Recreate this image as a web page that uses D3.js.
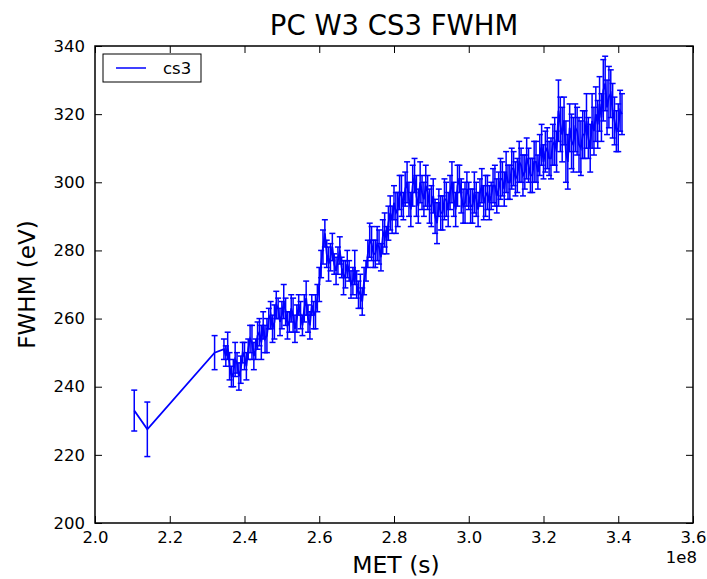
<!DOCTYPE html>
<html><head><meta charset="utf-8">
<script src="https://cdn.jsdelivr.net/npm/d3@7"></script>
<style>body{margin:0;background:#fff}svg{display:block}text{font-family:"DejaVu Sans",sans-serif}</style>
</head><body>
<script>
// MET in units of 1e6 s
const met = [210.5, 214, 232, 234.5,
 235,235.5,236,236.5,237,237.5,238,238.5,239,239.5,240,240.5,241,241.5,242,242.5,243,243.5,244,244.5,
 245,245.5,246,246.5,247,247.5,248,248.5,249,249.5,250,250.5,251,251.5,252,252.5,253,253.5,254,254.5,
 255,255.5,256,256.5,257,257.5,258,258.5,259,259.5,260,260.5,261,261.5,262,262.5,263,263.5,264,264.5,
 265,265.5,266,266.5,267,267.5,268,268.5,269,269.5,270,270.5,271,271.5,272,272.5,273,273.5,274,274.5,
 275,275.5,276,276.5,277,277.5,278,278.5,279,279.5,280,280.5,281,281.5,282,282.5,283,283.5,284,284.5,
 285,285.5,286,286.5,287,287.5,288,288.5,289,289.5,290,290.5,291,291.5,292,292.5,293,293.5,294,294.5,
 295,295.5,296,296.5,297,297.5,298,298.5,299,299.5,300,300.5,301,301.5,302,302.5,303,303.5,304,304.5,
 305,305.5,306,306.5,307,307.5,308,308.5,309,309.5,310,310.5,311,311.5,312,312.5,313,313.5,314,314.5,
 315,315.5,316,316.5,317,317.5,318,318.5,319,319.5,320,320.5,321,321.5,322,322.5,323,323.5,324,324.5,
 325,325.5,326,326.5,327,327.5,328,328.5,329,329.5,330,330.5,331,331.5,332,332.5,333,333.5,334,334.5,
 335,335.5,336,336.5,337,337.5,338,338.5,339,339.5,340,340.5,341];
const fwhm = [233, 227.5, 250, 251,
 249,252,246,243,244,248,247,243,245,250,249,246,251,254,253,249,251,255,256,253,
 258,254,255,260,261,257,259,264,263,259,261,265,262,258,259,263,261,257,260,264,
 261,258,263,266,260,258,264,261,262,266,270,276,281,285,279,276,278,281,276,274,
 277,280,275,272,273,276,274,270,271,275,270,267,268,265,271,274,279,283,282,279,
 279,282,281,278,284,286,283,288,291,289,294,291,292,297,296,293,298,300,295,292,
 299,302,296,293,300,297,295,299,297,293,293,296,290,288,294,291,291,295,295,292,
 297,300,295,292,299,301,296,293,294,298,296,293,293,297,295,292,297,299,294,296,
 297,294,296,299,299,296,298,301,301,298,303,300,300,304,304,301,302,306,305,302,
 303,307,305,302,302,306,306,303,308,311,306,309,310,307,307,311,312,309,321,317,
 314,318,309,306,316,312,311,316,315,311,310,314,314,318,313,310,318,315,320,317,
 323,319,327,329,322,325,326,321,318,315,316,321,320];
const err = [6, 8, 5, 3,
 3,4,4,3,4,5,3,4,4,3,4,4,3,4,5,4,3,4,4,5,
 4,4,5,3,4,4,5,4,3,4,4,5,4,4,3,4,5,4,4,3,
 4,3,4,5,4,4,3,4,5,4,5,4,5,4,4,5,4,4,3,4,
 4,4,3,5,4,4,3,4,4,5,4,4,5,4,4,3,4,5,5,4,
 4,5,5,4,5,5,4,5,5,4,5,6,5,5,6,4,5,6,5,5,
 6,5,6,5,6,5,5,6,5,5,6,5,5,6,4,5,5,6,5,5,
 5,6,5,5,6,4,5,5,6,5,4,5,5,6,5,5,4,5,5,6,
 5,5,4,5,6,5,5,6,5,5,6,5,5,6,5,5,5,6,5,6,
 5,6,5,5,5,6,6,5,6,6,5,6,6,5,6,6,7,6,9,8,
 8,7,9,8,7,8,8,7,7,8,8,7,7,8,6,7,8,7,8,7,
 8,7,9,8,8,9,7,8,7,6,7,6,6];
const xTicks = [2.0,2.2,2.4,2.6,2.8,3.0,3.2,3.4,3.6];
const yTicks = [200,220,240,260,280,300,320,340];
const title = "PC W3 CS3 FWHM", xLabel = "MET (s)", yLabel = "FWHM (eV)", seriesName = "cs3";

const W = 707, H = 579, L = 95, R = 693, T = 46, B = 523;
const svg = d3.select("body").append("svg").attr("width", W).attr("height", H);
const x = d3.scaleLinear().domain([2.0, 3.6]).range([L, R]);
const y = d3.scaleLinear().domain([200, 340]).range([B, T]);
const data = met.map((m, i) => ({x: m / 100, y: fwhm[i], e: err[i]}));
const blue = "#0000ff";

const g = svg.append("g");
// error bars
const eb = g.append("g").attr("stroke", blue).attr("stroke-width", 1.5);
data.forEach(d => {
  eb.append("line").attr("x1", x(d.x)).attr("x2", x(d.x)).attr("y1", y(d.y - d.e)).attr("y2", y(d.y + d.e));
  [d.y - d.e, d.y + d.e].forEach(v => eb.append("line").attr("x1", x(d.x) - 3).attr("x2", x(d.x) + 3).attr("y1", y(v)).attr("y2", y(v)));
});
g.append("path").datum(data).attr("fill", "none").attr("stroke", blue).attr("stroke-width", 1.8)
  .attr("d", d3.line().x(d => x(d.x)).y(d => y(d.y)));

// axes
const fs = "16.5px";
const ax = svg.append("g").attr("transform", `translate(0,${B})`)
  .call(d3.axisBottom(x).tickValues(xTicks).tickFormat(d3.format(".1f")).tickSize(-7).tickPadding(6));
ax.selectAll("text").attr("dy", "0.85em").style("font-size", fs);
svg.append("g").attr("transform", `translate(0,${T})`).call(d3.axisTop(x).tickValues(xTicks).tickFormat("").tickSize(-7));
const ay = svg.append("g").attr("transform", `translate(${L},0)`)
  .call(d3.axisLeft(y).tickValues(yTicks).tickFormat(d3.format("d")).tickSize(-7).tickPadding(10));
ay.selectAll("text").style("font-size", fs);
svg.append("g").attr("transform", `translate(${R},0)`).call(d3.axisRight(y).tickValues(yTicks).tickFormat("").tickSize(-7));
svg.selectAll(".domain").remove();
svg.selectAll(".tick line").attr("stroke", "#000").attr("stroke-width", 1);
svg.selectAll(".tick text").attr("fill", "#000");
svg.append("rect").attr("x", L).attr("y", T).attr("width", R - L).attr("height", B - T)
  .attr("fill", "none").attr("stroke", "#000").attr("stroke-width", 1.5);

// labels
svg.append("text").attr("x", (L + R) / 2).attr("y", 35).attr("text-anchor", "middle").style("font-size", "27.5px").text(title);
svg.append("text").attr("x", (L + R) / 2 + 2).attr("y", 573).attr("text-anchor", "middle").style("font-size", "23.5px").text(xLabel);
svg.append("text").attr("transform", `translate(35,${(T + B) / 2}) rotate(-90)`).attr("text-anchor", "middle").style("font-size", "23px").text(yLabel);
svg.append("text").attr("x", R + 4).attr("y", 563).attr("text-anchor", "end").style("font-size", fs).text("1e8");

// legend
const lg = svg.append("g");
lg.append("rect").attr("x", 103).attr("y", 54).attr("width", 98).attr("height", 28).attr("fill", "#fff").attr("stroke", "#000").attr("stroke-width", 1);
lg.append("line").attr("x1", 116).attr("x2", 146).attr("y1", 68).attr("y2", 68).attr("stroke", blue).attr("stroke-width", 1.5);
lg.append("text").attr("x", 163).attr("y", 74).style("font-size", "16.5px").text(seriesName);
</script>
</body></html>
